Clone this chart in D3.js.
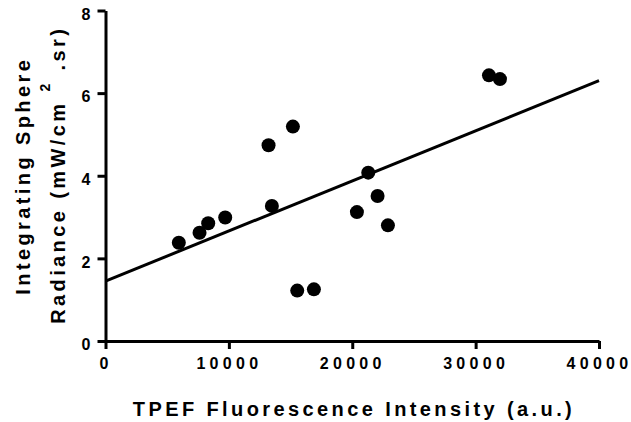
<!DOCTYPE html>
<html>
<head>
<meta charset="utf-8">
<script src="https://cdn.jsdelivr.net/npm/d3@7"></script>
<style>
  html, body { margin: 0; padding: 0; background: #fff; }
  text { font-family: "Liberation Sans", Arial, sans-serif; font-weight: bold; fill: #000; }
</style>
</head>
<body>
<div id="chart"></div>
<script>
// data
const intensity = [5943, 7622, 8324, 9703, 13486, 15540, 16892, 21297, 22054, 20378, 22892, 13216, 15189, 31081, 31973];
const radiance  = [2.38, 2.62, 2.85, 2.99, 3.27, 1.22, 1.25, 4.075, 3.51, 3.12, 2.80, 4.74, 5.19, 6.43, 6.34];
const xTicks = [0, 10000, 20000, 30000, 40000];
const yTicks = [0, 2, 4, 6, 8];
// linear fit line (intercept, slope)
const fitIntercept = 1.45;
const fitSlope = (6.30 - 1.45) / 40000;

const width = 631, height = 422;

const svg = d3.select("#chart")
  .append("svg")
  .attr("width", width)
  .attr("height", height);

const x = d3.scaleLinear().domain([0, 40000]).range([105.5, 599]);
const y = d3.scaleLinear().domain([0, 8]).range([341, 10.5]);

// ---------- axes ----------
const xAxis = svg.append("g")
  .attr("transform", `translate(0,${y(0)})`)
  .call(d3.axisBottom(x).tickValues(xTicks).tickFormat(d3.format("d"))
    .tickSize(8).tickSizeOuter(0).tickPadding(9));

const yAxis = svg.append("g")
  .attr("transform", `translate(${x(0)},0)`)
  .call(d3.axisLeft(y).tickValues(yTicks).tickFormat(d3.format("d"))
    .tickSize(8).tickSizeOuter(0).tickPadding(7));

[xAxis, yAxis].forEach(g => {
  g.select(".domain").attr("stroke", "#000").attr("stroke-width", 3);
  g.selectAll(".tick line").attr("stroke", "#000").attr("stroke-width", 3);
  g.selectAll(".tick text")
    .attr("font-size", 16)
    .style("font-family", '"Liberation Sans", Arial, sans-serif')
    .style("font-weight", "bold")
    .attr("fill", "#000");
});
xAxis.selectAll(".tick text").style("letter-spacing", "4.3px").attr("dy", "0.71em");
yAxis.selectAll(".tick text").attr("dy", "0.55em");

// ---------- fit line ----------
svg.append("line")
  .attr("x1", x(0))
  .attr("y1", y(fitIntercept))
  .attr("x2", x(40000))
  .attr("y2", y(fitIntercept + fitSlope * 40000))
  .attr("stroke", "#000")
  .attr("stroke-width", 3);

// ---------- points ----------
svg.append("g")
  .selectAll("circle")
  .data(intensity.map((v, i) => [v, radiance[i]]))
  .join("circle")
  .attr("cx", d => x(d[0]))
  .attr("cy", d => y(d[1]))
  .attr("r", 7)
  .attr("fill", "#000");

// ---------- titles ----------
svg.append("text")
  .attr("x", 354)
  .attr("y", 416)
  .attr("text-anchor", "middle")
  .attr("font-size", 20)
  .style("letter-spacing", "3.4px")
  .text("TPEF Fluorescence Intensity (a.u.)");

const yMid = (y(0) + y(8)) / 2;

svg.append("text")
  .attr("transform", `translate(29.5,${yMid}) rotate(-90)`)
  .attr("text-anchor", "middle")
  .attr("font-size", 20)
  .style("letter-spacing", "3.4px")
  .text("Integrating Sphere");

const t2 = svg.append("text")
  .attr("transform", `translate(65,${yMid - 1}) rotate(-90)`)
  .attr("text-anchor", "middle")
  .attr("font-size", 20)
  .style("letter-spacing", "3.4px");
t2.append("tspan").text("Radiance (mW/cm");
t2.append("tspan").attr("font-size", 14).attr("dx", 9).attr("dy", -15).text("2");
t2.append("tspan").attr("dx", 10).attr("dy", 15).text(".sr)");
</script>
</body>
</html>
